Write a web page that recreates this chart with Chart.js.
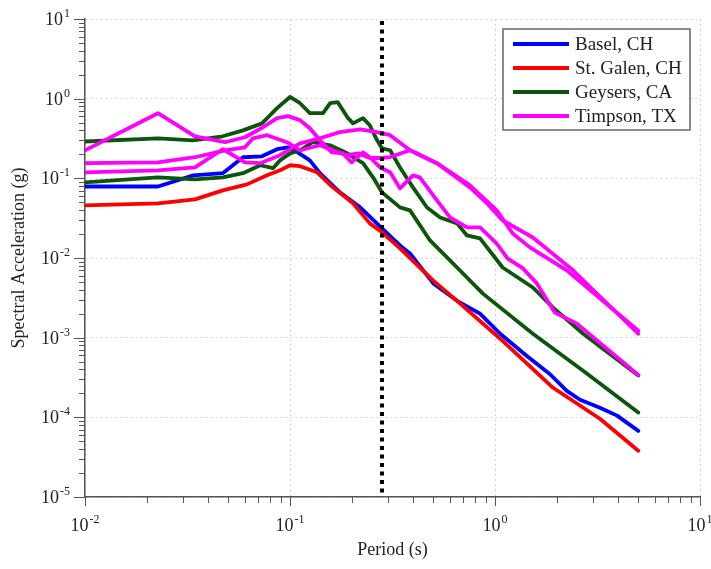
<!DOCTYPE html>
<html><head><meta charset="utf-8">
<script src="https://cdn.jsdelivr.net/npm/chart.js@4.4.0/dist/chart.umd.min.js"></script>
<style>html,body{margin:0;padding:0;background:#fff;}canvas{display:block;}</style>
</head><body>
<canvas id="c" width="711" height="569"></canvas>
<script>
// ---------- data (period in s, spectral acceleration in g) ----------
const legendNames = ['Basel, CH', 'St. Galen, CH', 'Geysers, CA', 'Timpson, TX'];
const legendColors = ['#0000ff', '#ff0000', '#0b560b', '#ff00ff'];

const baselT  = [0.01, 0.0227, 0.0337, 0.047, 0.059, 0.073, 0.0865, 0.0977, 0.109, 0.125, 0.14, 0.175, 0.22, 0.281, 0.344, 0.385, 0.5, 0.653, 0.845, 1.06, 1.43, 1.85, 2.24, 2.6, 3.25, 3.94, 5.0];
const baselSa = [0.079, 0.079, 0.109, 0.116, 0.184, 0.189, 0.232, 0.245, 0.212, 0.168, 0.116, 0.0667, 0.0432, 0.0235, 0.0144, 0.0114, 0.0048, 0.0029, 0.002, 0.00112, 0.00059, 0.00035, 0.000215, 0.000166, 0.000132, 0.000105, 0.0000676];

const galenT  = [0.01, 0.0227, 0.0344, 0.047, 0.0617, 0.0773, 0.0894, 0.1, 0.112, 0.1355, 0.162, 0.203, 0.245, 0.281, 0.344, 0.5, 0.653, 1.06, 1.92, 3.25, 5.0];
const galenSa = [0.0457, 0.0485, 0.0545, 0.0706, 0.084, 0.109, 0.126, 0.146, 0.142, 0.119, 0.077, 0.0486, 0.0272, 0.021, 0.0132, 0.0052, 0.0029, 0.00097, 0.000235, 0.000096, 0.000038];

const geysers1T  = [0.01, 0.0227, 0.0337, 0.047, 0.059, 0.073, 0.0865, 0.1, 0.112, 0.125, 0.145, 0.157, 0.171, 0.192, 0.203, 0.227, 0.245, 0.266, 0.281, 0.308, 0.344, 0.398, 0.466, 0.54, 0.653, 0.73, 0.845, 1.09, 1.53, 1.92, 2.69, 5.0];
const geysers1Sa = [0.29, 0.318, 0.30, 0.337, 0.40, 0.49, 0.76, 1.05, 0.877, 0.657, 0.657, 0.877, 0.904, 0.569, 0.49, 0.569, 0.464, 0.30, 0.238, 0.225, 0.137, 0.077, 0.043, 0.0323, 0.0272, 0.0192, 0.0176, 0.0076, 0.00426, 0.00238, 0.00112, 0.000335];

const geysers2T  = [0.01, 0.0227, 0.0344, 0.047, 0.059, 0.0715, 0.0826, 0.0894, 0.1, 0.112, 0.129, 0.157, 0.19, 0.227, 0.254, 0.281, 0.344, 0.385, 0.482, 0.653, 0.873, 1.53, 2.69, 5.0];
const geysers2Sa = [0.089, 0.103, 0.097, 0.103, 0.116, 0.146, 0.134, 0.168, 0.206, 0.225, 0.284, 0.26, 0.206, 0.155, 0.103, 0.0667, 0.0432, 0.0396, 0.0166, 0.0076, 0.00357, 0.00112, 0.000385, 0.000115];

const timpson1T  = [0.01, 0.0227, 0.0344, 0.0482, 0.0603, 0.0738, 0.0865, 0.0977, 0.112, 0.125, 0.14, 0.16, 0.181, 0.2, 0.227, 0.245, 0.275, 0.308, 0.344, 0.398, 0.43, 0.521, 0.603, 0.73, 0.845, 1.02, 1.15, 1.37, 1.6, 1.96, 2.51, 5.0];
const timpson1Sa = [0.225, 0.657, 0.337, 0.284, 0.328, 0.438, 0.569, 0.603, 0.537, 0.426, 0.30, 0.212, 0.206, 0.159, 0.212, 0.184, 0.137, 0.119, 0.0748, 0.109, 0.103, 0.0528, 0.0323, 0.0242, 0.0242, 0.0152, 0.0099, 0.0074, 0.0048, 0.00206, 0.0015, 0.00034];

const timpson2T  = [0.01, 0.0227, 0.0344, 0.0482, 0.0603, 0.066, 0.0773, 0.0966, 0.112, 0.14, 0.165, 0.19, 0.215, 0.245, 0.275, 0.308, 0.385, 0.521, 0.755, 1.02, 1.22, 1.48, 2.24, 5.0];
const timpson2Sa = [0.155, 0.159, 0.184, 0.225, 0.245, 0.318, 0.348, 0.284, 0.225, 0.26, 0.22, 0.195, 0.206, 0.18, 0.18, 0.185, 0.225, 0.155, 0.0817, 0.0396, 0.0203, 0.0136, 0.007, 0.00122];

const timpson3T  = [0.01, 0.0227, 0.0344, 0.047, 0.0603, 0.0715, 0.0894, 0.112, 0.14, 0.175, 0.22, 0.266, 0.308, 0.385, 0.521, 0.755, 0.914, 1.09, 1.53, 2.4, 5.0];
const timpson3Sa = [0.119, 0.126, 0.137, 0.232, 0.159, 0.155, 0.195, 0.275, 0.318, 0.38, 0.413, 0.38, 0.348, 0.225, 0.155, 0.077, 0.0486, 0.0296, 0.0181, 0.007, 0.00112];

const dividerPeriod = [0.281];
const xTickExps = [-2, -1, 0, 1];
const yTickExps = [-5, -4, -3, -2, -1, 0, 1];
const xTitle = 'Period (s)';
const yTitle = 'Spectral Acceleration (g)';

// ---------- chart ----------
const FONT = "'Liberation Serif', 'Times New Roman', serif";
function pts(T, S) { return T.map((t, i) => ({ x: t, y: S[i] })); }
function ds(label, T, S, color, order) {
  return { label, data: pts(T, S), borderColor: color, backgroundColor: color,
           borderWidth: 3.8, pointRadius: 0, fill: false, tension: 0, order,
           borderJoinStyle: 'round', borderCapStyle: 'round' };
}

const datasets = [
  ds(legendNames[0], baselT, baselSa, legendColors[0], 7),
  ds(legendNames[1], galenT, galenSa, legendColors[1], 6),
  ds(legendNames[2], geysers1T, geysers1Sa, legendColors[2], 5),
  ds(legendNames[2], geysers2T, geysers2Sa, legendColors[2], 4),
  ds(legendNames[3], timpson1T, timpson1Sa, legendColors[3], 3),
  ds(legendNames[3], timpson2T, timpson2Sa, legendColors[3], 2),
  ds(legendNames[3], timpson3T, timpson3Sa, legendColors[3], 1),
];

function drawPow(ctx, exp, x, y, align) {
  ctx.font = '18px ' + FONT;
  const wb = ctx.measureText('10').width;
  ctx.font = '12px ' + FONT;
  const sup = String(exp);
  const ws = ctx.measureText(sup).width;
  const w = wb + ws + 1;
  const sx = align === 'center' ? x - w / 2 : x - w;
  ctx.textAlign = 'left';
  ctx.textBaseline = 'alphabetic';
  ctx.font = '18px ' + FONT;
  ctx.fillText('10', sx, y);
  ctx.font = '12px ' + FONT;
  ctx.fillText(sup, sx + wb + 1, y - 8);
}

const decor = {
  id: 'decor',
  afterDraw(chart) {
    const ctx = chart.ctx, xs = chart.scales.x, ys = chart.scales.y, ca = chart.chartArea;
    ctx.save();
    // vertical dotted divider
    const dx = xs.getPixelForValue(dividerPeriod[0]);
    ctx.strokeStyle = '#000'; ctx.lineWidth = 4; ctx.setLineDash([4, 4.5]);
    ctx.beginPath(); ctx.moveTo(dx, ca.top + 2); ctx.lineTo(dx, ca.bottom); ctx.stroke();
    ctx.setLineDash([]);

    // outward tick marks
    ctx.strokeStyle = '#555'; ctx.lineWidth = 1;
    for (let i = 0; i < xTickExps.length; i++) {
      const d = Math.pow(10, xTickExps[i]);
      const mults = i === xTickExps.length - 1 ? [1] : [1,2,3,4,5,6,7,8,9];
      for (const m of mults) {
        const px = Math.round(xs.getPixelForValue(m * d)) + 0.5;
        const len = m === 1 ? 9 : 6;
        ctx.beginPath(); ctx.moveTo(px, ca.bottom); ctx.lineTo(px, ca.bottom + len); ctx.stroke();
      }
    }
    for (let i = 0; i < yTickExps.length; i++) {
      const d = Math.pow(10, yTickExps[i]);
      const mults = i === yTickExps.length - 1 ? [1] : [1,2,3,4,5,6,7,8,9];
      for (const m of mults) {
        const py = Math.round(ys.getPixelForValue(m * d)) + 0.5;
        const len = m === 1 ? 11 : 6;
        ctx.beginPath(); ctx.moveTo(ca.left, py); ctx.lineTo(ca.left - len, py); ctx.stroke();
      }
    }

    // tick labels
    ctx.fillStyle = '#222';
    for (const e of xTickExps) {
      drawPow(ctx, e, xs.getPixelForValue(Math.pow(10, e)), ca.bottom + 34, 'center');
    }
    for (const e of yTickExps) {
      drawPow(ctx, e, ca.left - 15, ys.getPixelForValue(Math.pow(10, e)) + 6, 'right');
    }

    // legend box
    const bx = 503, by = 29, bw = 187, bh = 101;
    ctx.fillStyle = '#fff'; ctx.fillRect(bx, by, bw, bh);
    ctx.strokeStyle = '#666'; ctx.lineWidth = 1.5; ctx.strokeRect(bx, by, bw, bh);
    ctx.font = '19px ' + FONT; ctx.textAlign = 'left'; ctx.textBaseline = 'middle';
    for (let i = 0; i < legendNames.length; i++) {
      const ly = by + 15 + i * 24;
      ctx.strokeStyle = legendColors[i]; ctx.lineWidth = 4;
      ctx.beginPath(); ctx.moveTo(bx + 10, ly); ctx.lineTo(bx + 66, ly); ctx.stroke();
      ctx.fillStyle = '#222';
      ctx.fillText(legendNames[i], bx + 72, ly + 1);
    }
    ctx.restore();
  }
};

const gridCfg = { color: '#d4d4d4', lineWidth: 1, drawTicks: false };
const borderCfg = { display: true, color: '#555', width: 1.5, dash: [2, 3] };

new Chart(document.getElementById('c'), {
  type: 'line',
  data: { datasets },
  plugins: [decor],
  options: {
    responsive: false, devicePixelRatio: 1, animation: false, events: [],
    layout: { padding: { left: 0, right: 11, top: 19, bottom: 0 } },
    plugins: { legend: { display: false }, tooltip: { enabled: false } },
    scales: {
      x: {
        type: 'logarithmic', min: 0.01, max: 10,
        afterBuildTicks: s => { s.ticks = xTickExps.map(e => ({ value: Math.pow(10, e) })); },
        afterFit: s => { s.height = 72; },
        ticks: { display: false },
        grid: gridCfg, border: borderCfg,
        title: { display: true, text: xTitle, color: '#222', font: { family: FONT, size: 18 }, padding: { top: 0, bottom: 8 } }
      },
      y: {
        type: 'logarithmic', min: 1e-5, max: 10,
        afterBuildTicks: s => { s.ticks = yTickExps.map(e => ({ value: Math.pow(10, e) })); },
        afterFit: s => { s.width = 85; },
        ticks: { display: false },
        grid: gridCfg, border: borderCfg,
        title: { display: true, text: yTitle, color: '#222', font: { family: FONT, size: 18 }, padding: { top: 8, bottom: 0 } }
      }
    }
  }
});
</script>
</body></html>
